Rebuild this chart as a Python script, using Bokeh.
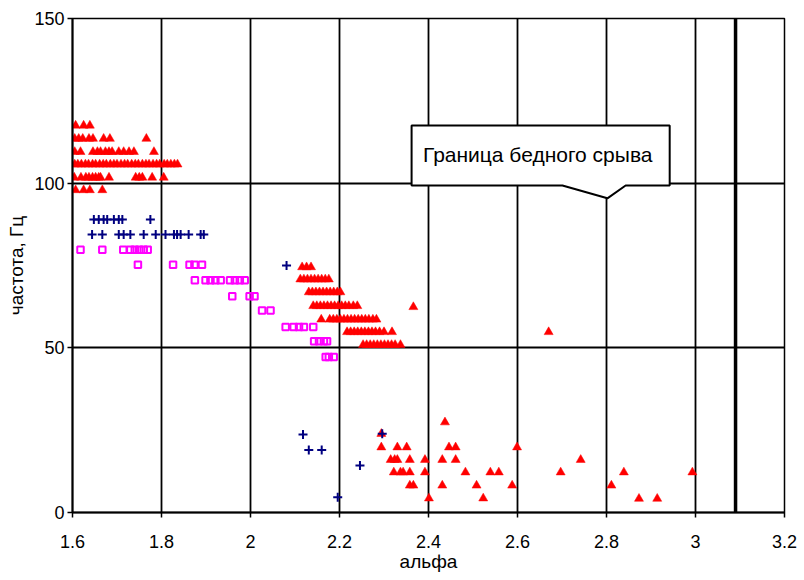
from bokeh.plotting import figure
from bokeh.models import Range1d, FixedTicker, CustomJSTickFormatter, Label
from bokeh.embed import file_html
from bokeh.resources import INLINE

# ---------------- data ----------------
x_ticks = [1.6, 1.8, 2.0, 2.2, 2.4, 2.6, 2.8, 3.0, 3.2]
y_ticks = [0, 50, 100, 150]

# blue crosses
cross_alpha = [1.648, 1.659, 1.670, 1.678, 1.693, 1.704, 1.712, 1.775,
               1.644, 1.667, 1.704, 1.715, 1.730, 1.760, 1.787, 1.809, 1.828, 1.835, 1.843, 1.861, 1.888, 1.895,
               2.081, 2.118, 2.131, 2.160, 2.246, 2.196, 2.296]
cross_freq = [89, 89, 89, 89, 89, 89, 89, 89,
              84.4, 84.4, 84.4, 84.4, 84.4, 84.4, 84.4, 84.4, 84.4, 84.4, 84.4, 84.4, 84.4, 84.4,
              75, 23.7, 19, 19, 14.3, 4.6, 23.9]

# magenta squares
square_alpha = [1.618, 1.667, 1.714, 1.730, 1.740, 1.750, 1.760, 1.769,
                1.747, 1.826, 1.863, 1.874, 1.891,
                1.875, 1.899, 1.910, 1.921, 1.933, 1.954, 1.965, 1.976, 1.987,
                1.959, 1.998, 2.009,
                2.026, 2.045,
                2.079, 2.097, 2.109, 2.120, 2.141,
                2.143, 2.154, 2.165, 2.172,
                2.169, 2.176, 2.187]
square_freq = [79.8] * 8 + [75.2] * 5 + [70.5] * 9 + [65.7] * 3 + [61.3] * 2 + [56.3] * 5 + [52.0] * 4 + [47.2] * 3

# red triangles, row by row
tri_rows_freq = [117.5, 113.5, 109.5, 105.7, 101.7, 97.9,
                 74.5, 70.8, 66.9, 62.7, 58.6, 54.8, 50.9]
tri_rows_alpha = [
    [1.607, 1.625, 1.639],
    [1.605, 1.614, 1.623, 1.637, 1.646, 1.670, 1.684, 1.766],
    [1.605, 1.618, 1.646, 1.656, 1.663, 1.674, 1.682, 1.689, 1.704, 1.715, 1.727, 1.738, 1.783],
    [1.605, 1.612, 1.620, 1.629, 1.636, 1.645, 1.652, 1.661, 1.669, 1.676, 1.685, 1.693, 1.700,
     1.709, 1.717, 1.724, 1.733, 1.741, 1.748, 1.757, 1.765, 1.772, 1.781, 1.789, 1.796, 1.806,
     1.813, 1.821, 1.829, 1.836],
    [1.604, 1.619, 1.630, 1.637, 1.645, 1.652, 1.659, 1.663, 1.682, 1.742, 1.750, 1.757, 1.779, 1.805],
    [1.607, 1.625, 1.639, 1.667],
    [2.116, 2.126, 2.136],
    [2.112, 2.120, 2.128, 2.136, 2.144, 2.152, 2.160, 2.168, 2.176],
    [2.131, 2.139, 2.147, 2.155, 2.163, 2.171, 2.179, 2.187, 2.195, 2.202],
    [2.141, 2.149, 2.157, 2.165, 2.173, 2.181, 2.189, 2.197, 2.205, 2.213, 2.221, 2.231, 2.240],
    [2.159, 2.178, 2.186, 2.194, 2.202, 2.210, 2.218, 2.226, 2.234, 2.242, 2.250, 2.258, 2.266, 2.275, 2.283],
    [2.217, 2.225, 2.233, 2.241, 2.249, 2.257, 2.265, 2.273, 2.281, 2.290, 2.300, 2.318],
    [2.253, 2.261, 2.269, 2.277, 2.285, 2.293, 2.301, 2.309, 2.317, 2.325, 2.337],
]
tri_extra_alpha = [2.366, 2.670,
                   2.437, 2.294, 2.294, 2.330, 2.351, 2.446, 2.461, 2.599,
                   2.315, 2.324, 2.330, 2.358, 2.392, 2.431, 2.461, 2.742,
                   2.322, 2.337, 2.343, 2.358, 2.392, 2.483, 2.539, 2.558, 2.697, 2.839, 2.993,
                   2.358, 2.366, 2.431, 2.508, 2.588, 2.811,
                   2.401, 2.523, 2.873, 2.914]
tri_extra_freq = [62.4, 54.8,
                  27.4, 23.9, 19.8, 19.8, 19.8, 19.8, 19.8, 19.8,
                  16.0, 16.0, 16.0, 16.0, 16.0, 16.0, 16.0, 16.0,
                  12.2, 12.2, 12.2, 12.2, 12.2, 12.2, 12.2, 12.2, 12.2, 12.2, 12.2,
                  8.2, 8.2, 8.2, 8.2, 8.2, 8.2,
                  4.3, 4.3, 4.2, 4.2]

# lean blow-off boundary
boundary_alpha = [3.09, 3.09]
boundary_freq = [0, 150]

callout_text = "Граница бедного  срыва"
x_label = "альфа"
y_label = "частота, Гц"

# ---------------- build ----------------
tri_alpha, tri_freq = [], []
for f, row in zip(tri_rows_freq, tri_rows_alpha):
    tri_alpha += row
    tri_freq += [f] * len(row)
tri_alpha += tri_extra_alpha
tri_freq += tri_extra_freq

FONT = "Liberation Sans"

p = figure(width=804, height=580, output_backend="svg", toolbar_location=None,
           x_range=Range1d(1.6, 3.2), y_range=Range1d(0, 150),
           min_border_left=72, min_border_right=20, min_border_top=18, min_border_bottom=68)
p.background_fill_color = "white"
p.border_fill_color = "white"
p.outline_line_color = "black"
p.outline_line_width = 1.5

p.xaxis.ticker = FixedTicker(ticks=x_ticks)
p.yaxis.ticker = FixedTicker(ticks=y_ticks)
p.xaxis.formatter = CustomJSTickFormatter(code="return String(Math.round(tick*10)/10);")

for ax in (p.xaxis, p.yaxis):
    ax.axis_line_color = "black"
    ax.axis_line_width = 2
    ax.major_tick_line_color = "black"
    ax.major_tick_line_width = 1.5
    ax.major_tick_out = 5
    ax.major_tick_in = 0
    ax.minor_tick_line_color = None
    ax.major_label_text_font = FONT
    ax.major_label_text_font_size = "18px"
    ax.major_label_text_color = "black"
    ax.axis_label_text_font = FONT
    ax.axis_label_text_font_size = "19px"
    ax.axis_label_text_font_style = "normal"
    ax.axis_label_text_color = "black"

p.xaxis.major_label_standoff = 17
p.yaxis.major_label_standoff = 3
p.xaxis.axis_label = x_label
p.yaxis.axis_label = y_label
p.xaxis.axis_label_standoff = 0
p.yaxis.axis_label_standoff = 4

p.xgrid.ticker = FixedTicker(ticks=x_ticks)
p.ygrid.ticker = FixedTicker(ticks=y_ticks)
p.grid.grid_line_color = "black"
p.grid.grid_line_width = 1.8
p.grid.grid_line_alpha = 1.0

# boundary line
p.line(boundary_alpha, boundary_freq, line_color="black", line_width=3.5)

# series
p.scatter(tri_alpha, tri_freq, marker="triangle", size=9, fill_color="#FF0000", line_color="#FF0000", line_width=0.5)
p.scatter(square_alpha, square_freq, marker="square", size=6.5, fill_color=None, line_color="#FF00FF", line_width=2)
p.scatter(cross_alpha, cross_freq, marker="cross", size=9, line_color="#000080", line_width=2)

# callout (wedge rectangle) in data coordinates
bx0, bx1, by0, by1 = 2.362, 2.942, 99.3, 117.5
wl, wtipx, wtipy, wr = 2.701, 2.802, 95.4, 2.843
p.patch([bx0, bx1, bx1, wr, wtipx, wl, bx0], [by1, by1, by0, by0, wtipy, by0, by0],
        fill_color="white", line_color="black", line_width=2)
p.add_layout(Label(x=(bx0 + bx1) / 2, y=108.6, text=callout_text, text_align="center", text_baseline="middle",
                   text_font=FONT, text_font_size="21px", text_color="black"))

open("out.html", "w").write(file_html(p, INLINE))
